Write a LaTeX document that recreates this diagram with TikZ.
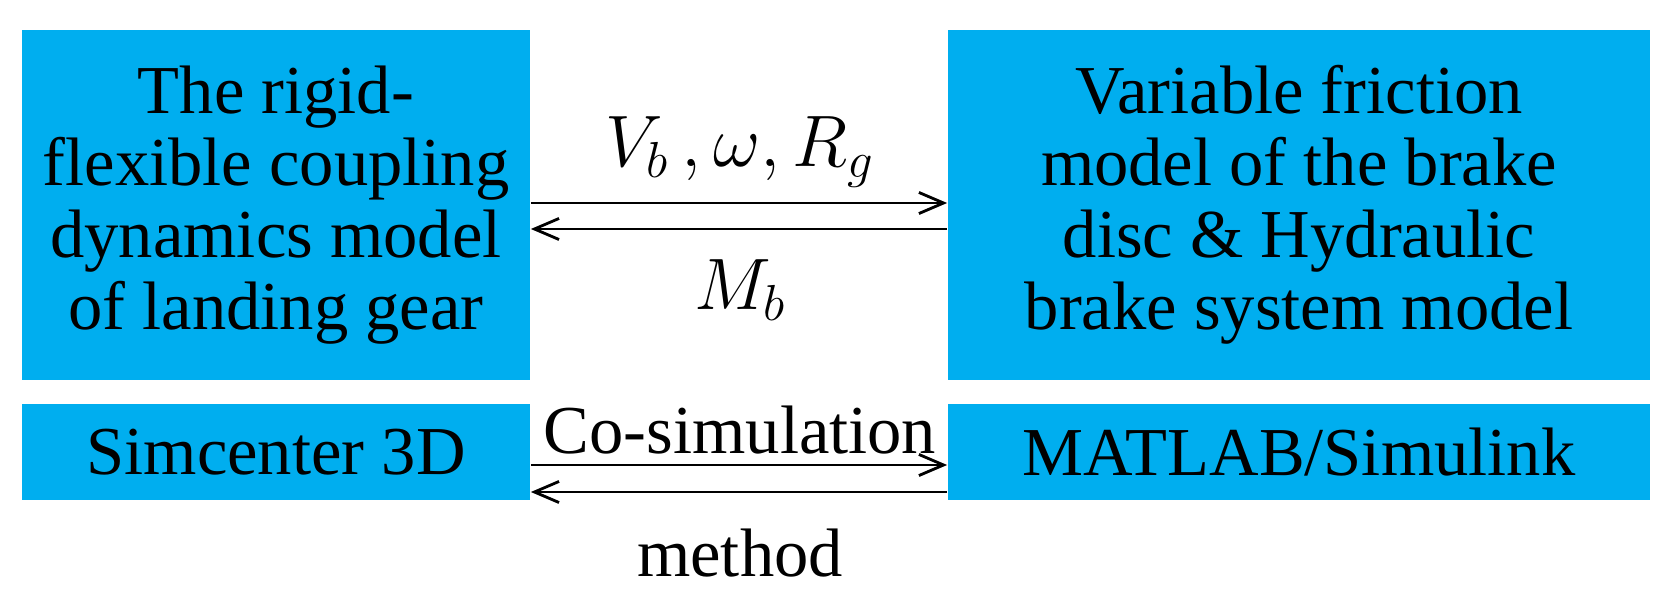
\documentclass[tikz,border=0pt]{standalone}
\usepackage{fontspec}
\setmainfont{Liberation Serif}
\usetikzlibrary{arrows.meta}
\definecolor{boxc}{HTML}{00AEEF}
\begin{document}
\begin{tikzpicture}[x=0.01cm,y=-0.01cm,
  box/.style={fill=boxc,draw=none,inner sep=0pt,align=center,font=\fontsize{19.5}{20.5}\selectfont},
  lab/.style={font=\fontsize{19.5}{20.5}\selectfont},
  arr/.style={-{Straight Barb[length=7pt,width=6pt]},line width=0.8pt}]
\useasboundingbox (0,0) rectangle (1677,595);
\node[box,minimum width=5.08cm,minimum height=3.5cm] (tl) at (276,205) {The rigid-\\flexible coupling\\dynamics model\\of landing gear};
\node[box,minimum width=7.02cm,minimum height=3.5cm] (tr) at (1299,205) {Variable friction\\model of the brake\\disc \& Hydraulic\\brake system model};
\node[box,minimum width=5.08cm,minimum height=0.95cm] (bl) at (276,452) {Simcenter 3D};
\node[box,minimum width=7.02cm,minimum height=0.95cm] (br) at (1299,452) {MATLAB/Simulink};
\coordinate (a1) at (tl.east |- 0,203); \coordinate (a2) at (tr.west |- 0,203);
\coordinate (b1) at (tl.east |- 0,229); \coordinate (b2) at (tr.west |- 0,229);
\draw[arr] (a1) -- (a2);
\draw[arr] (b2) -- (b1);
\coordinate (c1) at (bl.east |- 0,465); \coordinate (c2) at (br.west |- 0,465);
\coordinate (d1) at (bl.east |- 0,492); \coordinate (d2) at (br.west |- 0,492);
\draw[arr] (c1) -- (c2);
\draw[arr] (d2) -- (d1);
\node[lab] (l1) at (740,152) {$V_b\,,\omega,R_g$};
\node[lab] (l2) at (740,290) {$M_b$};
\node[lab] (l3) at (740,430) {Co-simulation};
\node[lab] (l4) at (740,553) {method};
\end{tikzpicture}
\end{document}
